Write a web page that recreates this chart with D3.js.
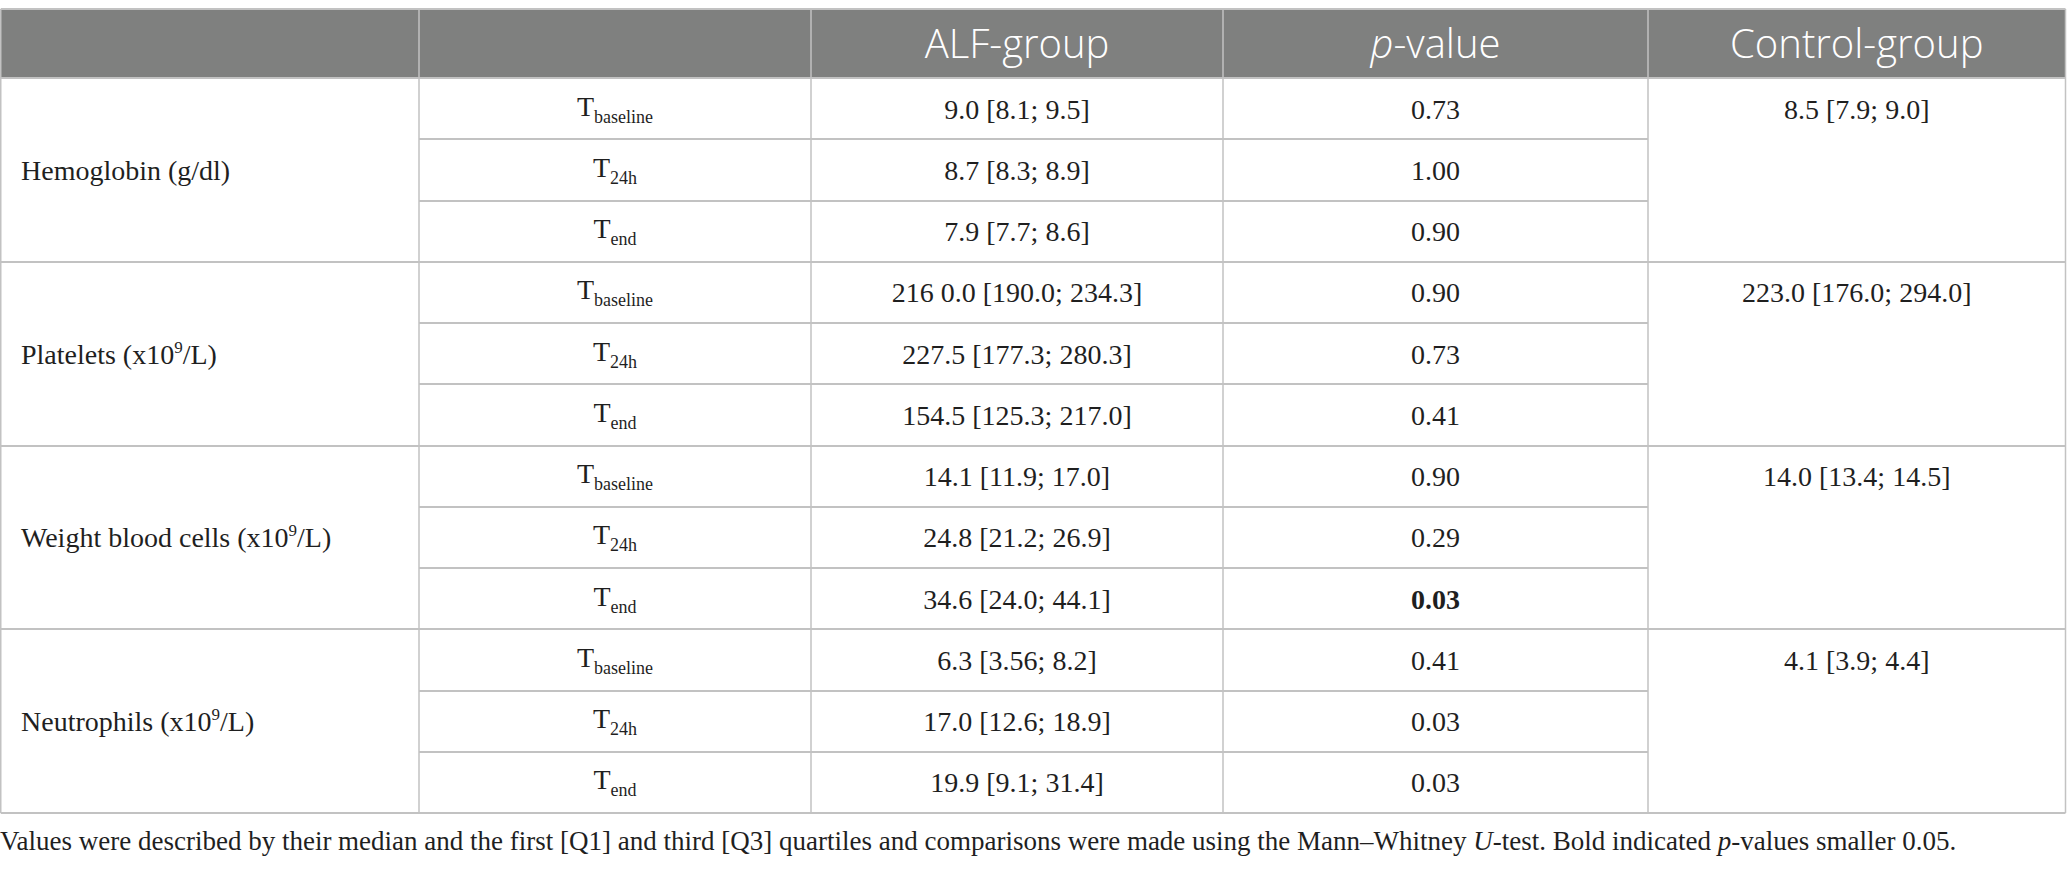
<!DOCTYPE html>
<html>
<head>
<meta charset="utf-8">
<script src="https://cdn.jsdelivr.net/npm/d3@7"></script>
<style>
  body { margin: 0; background: #fff; }
</style>
</head>
<body>
<div id="tabela"></div>
<script>
// table content
const headers = ["", "", "ALF-group", "p-value", "Control-group"];
const measures = ["Hemoglobin (g/dl)", "Platelets (x10^9/L)", "Weight blood cells (x10^9/L)", "Neutrophils (x10^9/L)"];
const timepoints = ["baseline", "24h", "end"];
const alfValues = [
  "9.0 [8.1; 9.5]", "8.7 [8.3; 8.9]", "7.9 [7.7; 8.6]",
  "216 0.0 [190.0; 234.3]", "227.5 [177.3; 280.3]", "154.5 [125.3; 217.0]",
  "14.1 [11.9; 17.0]", "24.8 [21.2; 26.9]", "34.6 [24.0; 44.1]",
  "6.3 [3.56; 8.2]", "17.0 [12.6; 18.9]", "19.9 [9.1; 31.4]"
];
const pValues = ["0.73", "1.00", "0.90", "0.90", "0.73", "0.41", "0.90", "0.29", "0.03", "0.41", "0.03", "0.03"];
const pBold = [false, false, false, false, false, false, false, false, true, false, false, false];
const controlValues = ["8.5 [7.9; 9.0]", "223.0 [176.0; 294.0]", "14.0 [13.4; 14.5]", "4.1 [3.9; 4.4]"];

function crtajTabelu() {
    const width = 2067;
    const height = 870;
    const top = 9, headBottom = 78, bodyBottom = 813;
    const colEdges = [0.75, 419, 811, 1223, 1648, 2065.5];
    const lineColor = "#c2c2c2";
    const serif = "'Liberation Serif', 'Times New Roman', serif";

    const svg = d3.select("#tabela")
        .append("svg")
        .attr("width", width)
        .attr("height", height);

    // one band per body row
    const rows = d3.range(measures.length * timepoints.length);
    const y = d3.scaleBand()
        .domain(rows)
        .range([headBottom, bodyBottom]);

    const x = d3.scaleOrdinal()
        .domain(d3.range(colEdges.length))
        .range(colEdges);
    const colMid = i => (x(i) + x(i + 1)) / 2;

    // header
    svg.append("rect")
        .attr("x", x(0)).attr("y", top)
        .attr("width", x(5) - x(0)).attr("height", headBottom - top)
        .attr("fill", "#7f807f");

    svg.selectAll("text.head")
        .data(headers)
        .enter()
        .append("text")
        .attr("class", "head")
        .attr("x", (d, i) => colMid(i))
        .attr("y", (top + headBottom) / 2 + 14)
        .attr("text-anchor", "middle")
        .style("font-family", "'Open Sans', sans-serif")
        .style("font-weight", 300)
        .style("font-size", "40px")
        .attr("fill", "#fff")
        .each(function (d) {
            const t = d3.select(this);
            if (d.startsWith("p-")) {
                t.append("tspan").style("font-style", "italic").text("p");
                t.append("tspan").text(d.slice(1));
            } else {
                t.text(d);
            }
        });

    const g = svg.append("g").style("font-family", serif).style("font-size", "28px").attr("fill", "#1f1f1f");

    // horizontal lines: full-width at group boundaries, partial inside groups
    const lines = [];
    lines.push({ y: top, x1: x(0), x2: x(5) });
    lines.push({ y: headBottom, x1: x(0), x2: x(5) });
    rows.forEach(r => {
        const yy = y(r) + y.bandwidth();
        const groupEnd = (r + 1) % timepoints.length === 0;
        if (groupEnd) lines.push({ y: yy, x1: x(0), x2: x(5) });
        else lines.push({ y: yy, x1: x(1), x2: x(4) });
    });

    svg.append("g").selectAll("line")
        .data(lines)
        .enter()
        .append("line")
        .attr("x1", d => d.x1).attr("x2", d => d.x2)
        .attr("y1", d => Math.round(d.y)).attr("y2", d => Math.round(d.y))
        .attr("stroke", lineColor)
        .attr("stroke-width", 2);

    svg.append("g").selectAll("line")
        .data(colEdges)
        .enter()
        .append("line")
        .attr("x1", d => d).attr("x2", d => d)
        .attr("y1", top).attr("y2", bodyBottom)
        .attr("stroke", lineColor)
        .attr("stroke-width", 1.5);

    // measure labels
    g.selectAll("text.measure")
        .data(measures)
        .enter()
        .append("text")
        .attr("class", "measure")
        .attr("x", 21)
        .attr("y", (d, i) => {
            const a = y(i * 3), b = y(i * 3 + 2) + y.bandwidth();
            return (a + b) / 2 + 10;
        })
        .each(function (d) {
            const t = d3.select(this);
            const parts = d.split(/\^(\d+)/);
            t.append("tspan").text(parts[0]);
            if (parts.length > 1) {
                t.append("tspan").attr("dy", -11).style("font-size", "17px").text(parts[1]);
                t.append("tspan").attr("dy", 11).text(parts[2]);
            }
        });

    // timepoint labels T with subscript
    g.selectAll("text.tp")
        .data(rows)
        .enter()
        .append("text")
        .attr("class", "tp")
        .attr("x", colMid(1))
        .attr("y", r => y(r) + y.bandwidth() / 2 + 7)
        .attr("text-anchor", "middle")
        .each(function (r) {
            const t = d3.select(this);
            t.append("tspan").text("T");
            t.append("tspan").attr("dy", 7).style("font-size", "18px").text(timepoints[r % 3]);
        });

    g.selectAll("text.alf")
        .data(alfValues)
        .enter()
        .append("text")
        .attr("x", colMid(2))
        .attr("y", (d, i) => y(i) + y.bandwidth() / 2 + 10)
        .attr("text-anchor", "middle")
        .text(d => d);

    g.selectAll("text.pv")
        .data(pValues)
        .enter()
        .append("text")
        .attr("x", colMid(3))
        .attr("y", (d, i) => y(i) + y.bandwidth() / 2 + 10)
        .attr("text-anchor", "middle")
        .style("font-weight", (d, i) => pBold[i] ? "bold" : "normal")
        .text(d => d);

    g.selectAll("text.ctrl")
        .data(controlValues)
        .enter()
        .append("text")
        .attr("x", colMid(4))
        .attr("y", (d, i) => y(i * 3) + y.bandwidth() / 2 + 10)
        .attr("text-anchor", "middle")
        .text(d => d);

    // footnote
    const note = g.append("text")
        .attr("x", 0)
        .attr("y", 850)
        .style("font-size", "27px");
    note.append("tspan").text("Values were described by their median and the first [Q1] and third [Q3] quartiles and comparisons were made using the Mann\u2013Whitney ");
    note.append("tspan").style("font-style", "italic").text("U");
    note.append("tspan").text("-test. Bold indicated ");
    note.append("tspan").style("font-style", "italic").text("p");
    note.append("tspan").text("-values smaller 0.05.");
}

crtajTabelu();
</script>
</body>
</html>
